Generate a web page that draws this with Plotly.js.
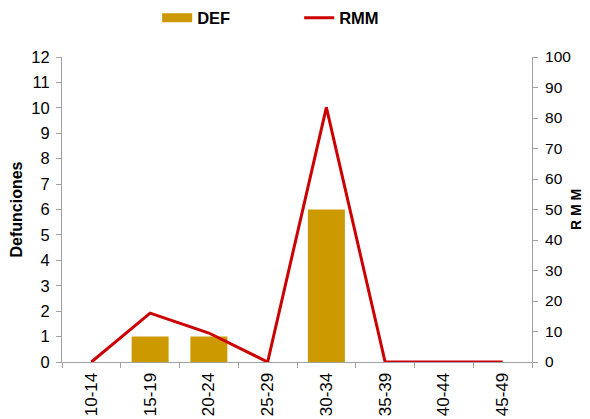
<!DOCTYPE html>
<html><head><meta charset="utf-8">
<script src="https://cdn.plot.ly/plotly-3.0.1.min.js"></script>
<style>html,body{margin:0;padding:0;background:#fff}#c{width:590px;height:419px}</style>
</head><body><div id="c"></div>
<script>
const categories = ["10-14","15-19","20-24","25-29","30-34","35-39","40-44","45-49"];
const defValues = [0,1,1,0,6,0,0,0];
const rmmValues = [0,16,9.5,0,83.5,0,0,0];
const leftTicks = [0,1,2,3,4,5,6,7,8,9,10,11,12];
const rightTicks = [0,10,20,30,40,50,60,70,80,90,100];

const font = "Liberation Sans, Arial, sans-serif";
const narrow = "Liberation Sans Narrow, Arial Narrow, Liberation Sans, sans-serif";
const data = [
  {type:"bar", x:categories, y:defValues, name:"DEF", marker:{color:"#CC9900"}, yaxis:"y", showlegend:false},
  {type:"scatter", mode:"lines", x:[null], y:[null], name:"DEF", line:{color:"#CC9900", width:9}, yaxis:"y", showlegend:true},
  {type:"scatter", mode:"lines", x:categories, y:rmmValues, name:"RMM", line:{color:"#CC0000", width:3}, yaxis:"y2"}
];
const layout = {
  width:590, height:419,
  margin:{l:62, r:58, t:57, b:57},
  paper_bgcolor:"#fff", plot_bgcolor:"#fff",
  font:{family:font, size:15.5, color:"#000"},
  bargap:0.37,
  showlegend:true,
  legend:{orientation:"h", x:0.2025, xanchor:"left", xref:"paper", yref:"container", y:1-18/419, yanchor:"middle",
    font:{family:narrow, size:16.5, color:"#000", weight:"bold"}, entrywidth:97, entrywidthmode:"pixels", itemwidth:30},
  xaxis:{type:"category", range:[-0.5,7.5], tickson:"boundaries", ticks:"outside", ticklen:5, tickcolor:"#a0a0a0",
    showline:true, linecolor:"#a0a0a0", linewidth:1, showgrid:false, tickangle:-90, zeroline:false,
    ticklabelstandoff:3, tickfont:{family:font, size:17, color:"#000"}},
  yaxis:{range:[0,12], tickvals:leftTicks, ticks:"outside", ticklen:5, tickcolor:"#a0a0a0",
    showline:true, linecolor:"#a0a0a0", linewidth:1, showgrid:false, zeroline:false,
    ticklabelstandoff:3, tickfont:{family:font, size:16.5, color:"#000"},
    title:{text:"Defunciones", font:{family:font, size:16, color:"#000", weight:"bold"}, standoff:4}},
  yaxis2:{range:[0,100], tickvals:rightTicks, overlaying:"y", side:"right", ticks:"outside", ticklen:5, tickcolor:"#a0a0a0",
    showline:true, linecolor:"#a0a0a0", linewidth:1, showgrid:false, zeroline:false,
    ticklabelstandoff:4, tickfont:{family:font, size:15.5, color:"#000"},
    title:{text:"R M M", font:{family:font, size:14, color:"#000", weight:"bold"}, standoff:0}}
};
Plotly.newPlot("c", data, layout, {staticPlot:true, displayModeBar:false});
</script></body></html>
